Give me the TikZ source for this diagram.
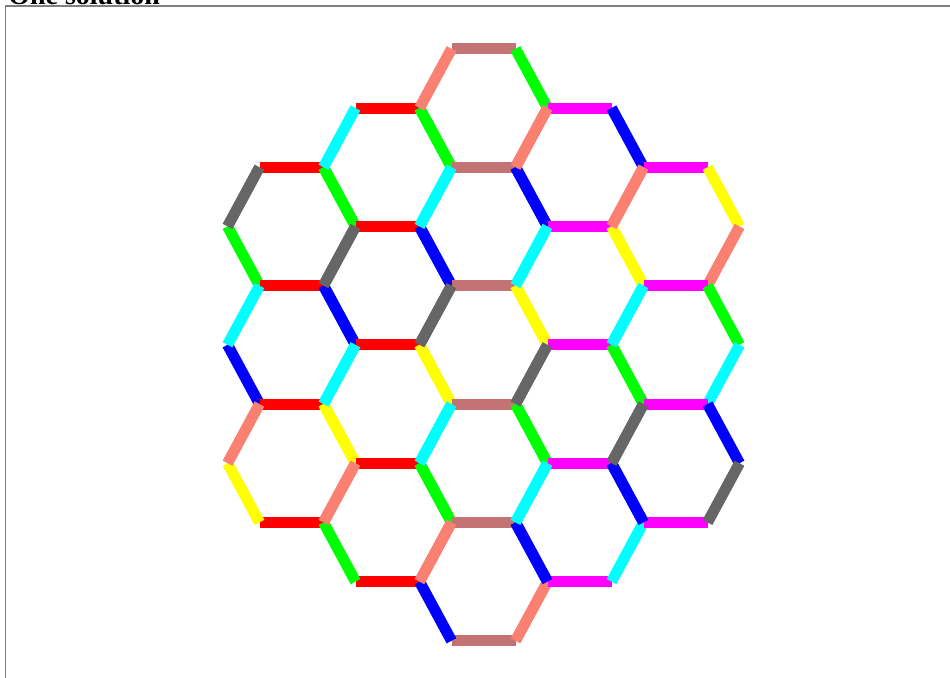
\documentclass[tikz,border=0pt]{standalone}
\usepackage{fontspec}
\setmainfont{Liberation Serif}

\definecolor{hexRed}{RGB}{255,0,0}
\definecolor{hexGreen}{RGB}{0,255,0}
\definecolor{hexBlue}{RGB}{0,0,255}
\definecolor{hexCyan}{RGB}{0,255,255}
\definecolor{hexMagenta}{RGB}{255,0,255}
\definecolor{hexYellow}{RGB}{255,255,0}
\definecolor{hexSalmon}{RGB}{250,128,114}
\definecolor{hexRosy}{RGB}{195,115,115}
\definecolor{hexGray}{RGB}{102,102,102}
\definecolor{frameGray}{RGB}{128,128,128}

\begin{document}
\begin{tikzpicture}[x=0.75pt, y=-0.75pt]

% --- Styles ---
\tikzset{
    edge/.style={
        line width=8.25pt
    },
    frame/.style={
        draw=frameGray,
        line width=1.1pt
    },
    titletext/.style={
        anchor=base west,
        inner sep=0pt,
        font=\bfseries\fontsize{21pt}{25pt}\selectfont
    }
}

% --- Bladformaat en uitsnede ---
\useasboundingbox (0,0) rectangle (950,678);
\clip (0,0) rectangle (950,678);

% --- Kader en titel ---
\draw[frame] (5.5,6) rectangle (980,700);
\node[titletext] (title) at (8,4.5) {One solution};

% =========================================================================
% --- Honingraat van 19 zeshoeken ---
% =========================================================================

% kolom \c, rij \r; kleur horizontaal / kleur "\"-ribben / kleur "/"-ribben
\pgfmathsetmacro{\halfW}{64}
\pgfmathsetmacro{\halfT}{32}
\pgfmathsetmacro{\halfH}{59.2}

\foreach \c/\r/\hc/\bc/\sc in {
    1/1/hexRed/hexGreen/hexGray,
    1/2/hexRed/hexBlue/hexCyan,
    1/3/hexRed/hexYellow/hexSalmon,
    2/1/hexRed/hexGreen/hexCyan,
    2/2/hexRed/hexBlue/hexGray,
    2/3/hexRed/hexYellow/hexCyan,
    2/4/hexRed/hexGreen/hexSalmon,
    3/1/hexRosy/hexGreen/hexSalmon,
    3/2/hexRosy/hexBlue/hexCyan,
    3/3/hexRosy/hexYellow/hexGray,
    3/4/hexRosy/hexGreen/hexCyan,
    3/5/hexRosy/hexBlue/hexSalmon,
    4/1/hexMagenta/hexBlue/hexSalmon,
    4/2/hexMagenta/hexYellow/hexCyan,
    4/3/hexMagenta/hexGreen/hexGray,
    4/4/hexMagenta/hexBlue/hexCyan,
    5/1/hexMagenta/hexYellow/hexSalmon,
    5/2/hexMagenta/hexGreen/hexCyan,
    5/3/hexMagenta/hexBlue/hexGray}{
    % --- Middelpunt van de cel ---
    \pgfmathsetmacro{\cx}{483.5+(\c-3)*96}
    \pgfmathsetmacro{\cy}{108+\halfH*abs(\c-3)+2*\halfH*(\r-1)}

    % --- Hoekpunten ---
    \coordinate (tl) at ({\cx-\halfT},{\cy-\halfH});
    \coordinate (tr) at ({\cx+\halfT},{\cy-\halfH});
    \coordinate (r)  at ({\cx+\halfW},\cy);
    \coordinate (br) at ({\cx+\halfT},{\cy+\halfH});
    \coordinate (bl) at ({\cx-\halfT},{\cy+\halfH});
    \coordinate (l)  at ({\cx-\halfW},\cy);

    % --- Ribben ---
    \draw[edge, draw=\hc] (tl) -- (tr);
    \draw[edge, draw=\hc] (bl) -- (br);
    \draw[edge, draw=\bc] (tr) -- (r);
    \draw[edge, draw=\bc] (l) -- (bl);
    \draw[edge, draw=\sc] (tl) -- (l);
    \draw[edge, draw=\sc] (r) -- (br);
}

\end{tikzpicture}
\end{document}
